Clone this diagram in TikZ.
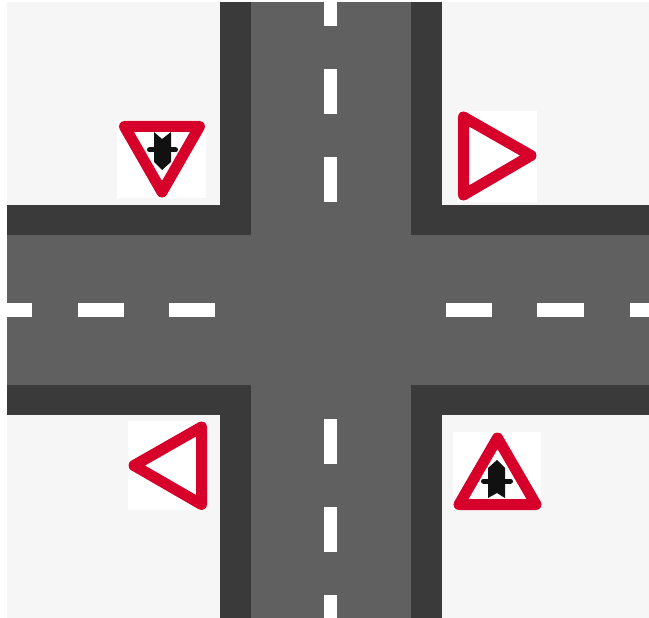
\documentclass[tikz,border=0pt]{standalone}
\usepackage{tikz}
\definecolor{groundgray}{HTML}{F6F6F6}
\definecolor{kerbgray}{HTML}{3A3A3A}
\definecolor{roadgray}{HTML}{606060}
\definecolor{signred}{HTML}{D6002A}
\definecolor{markblack}{HTML}{111111}
\begin{document}
\begin{tikzpicture}[x=1pt,y=-1pt,
  signframe/.style={draw=signred,line width=11pt,line join=round,fill=white},
  signback/.style={fill=white},
  priority/.style={fill=markblack},
  crossbar/.style={draw=markblack,line width=5pt,line cap=round}]
\useasboundingbox (0,0) rectangle (649,618);
\fill[white] (0,0) rectangle (649,618);
\fill[groundgray] (7,2) rectangle (649,618);
\fill[kerbgray] (220,2) rectangle (442,618);
\fill[kerbgray] (7,205) rectangle (649,415);
\fill[roadgray] (251,2) rectangle (411,618);
\fill[roadgray] (7,235) rectangle (649,385);
\foreach \ya/\yb in {2/26,69/114,157/202,419/464,507/552,595/618} {\fill[white] (324,\ya) rectangle (337,\yb);}
\foreach \xa/\xb in {7/32,78/124,169/215,446/492,537/584,630/649} {\fill[white] (\xa,303) rectangle (\xb,317);}
\fill[signback] (117,120) rectangle (206,198);
\draw[signframe] (124.5,126.5) -- (199.5,126.5) -- (162,192) -- cycle;
\fill[priority] (154,132) -- (162,139) -- (171,132) -- (171,162) -- (162,170) -- (154,162) -- cycle;
\draw[crossbar] (149.5,150) -- (175.5,150);
\fill[signback] (458,111) rectangle (537,202);
\draw[signframe] (463.5,117) -- (531,155.5) -- (463.5,195) -- cycle;
\fill[signback] (128,421) rectangle (207,510);
\draw[signframe] (201.5,427) -- (134,465.5) -- (201.5,504.5) -- cycle;
\fill[signback] (453,432) rectangle (541,510);
\draw[signframe] (459,504.5) -- (536,504.5) -- (497.5,438) -- cycle;
\fill[priority] (488,498) -- (497,493) -- (505,498) -- (505,468) -- (497,460) -- (488,468) -- cycle;
\draw[crossbar] (483.5,481) -- (510.5,481);
\end{tikzpicture}
\end{document}
